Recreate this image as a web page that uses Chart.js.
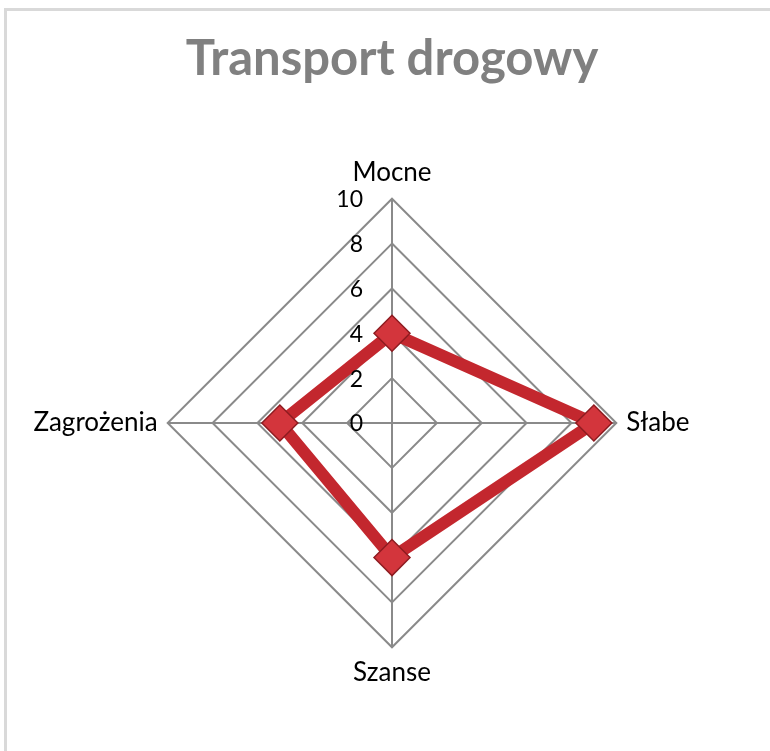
<!DOCTYPE html>
<html>
<head>
<meta charset="utf-8">
<script src="https://cdn.jsdelivr.net/npm/chart.js@4.4.1/dist/chart.umd.min.js"></script>
<style>
    html, body { margin: 0; padding: 0; background: #fff; overflow: hidden; width: 770px; height: 751px; }
    #frame {
        position: absolute; left: 4px; top: 8px; width: 800px; height: 800px;
        border-top: 3px solid #d9d9d9; border-left: 3px solid #d9d9d9;
    }
    /* canvas is wider than the window so the left label never squeezes the radar */
    #wrap { position: absolute; left: -108px; top: 0; width: 1000px; height: 751px; }
</style>
</head>
<body>
<div id="frame"></div>
<div id="wrap"><canvas id="radar-chart"></canvas></div>
<script>
    const categories = ['Mocne', 'Słabe', 'Szanse', 'Zagrożenia'];
    const values = [4, 9, 6, 5];
    const tickValues = [0, 2, 4, 6, 8, 10];

    // tick numbers sit left of the vertical axis, right aligned
    const tickLabelsPlugin = {
        id: 'tickLabels',
        afterDraw(chart) {
            const scale = chart.scales.r;
            const ctx = chart.ctx;
            ctx.save();
            ctx.font = '23px Lato';
            ctx.fillStyle = '#000';
            ctx.textAlign = 'right';
            ctx.textBaseline = 'middle';
            tickValues.forEach(function (v) {
                const y = scale.yCenter - scale.getDistanceFromCenterForValue(v);
                ctx.fillText(String(v), scale.xCenter - 29, y + 1);
            });
            ctx.restore();
        }
    };

    const radarCtx = document.getElementById('radar-chart').getContext('2d');
    const chartRadar = new Chart(radarCtx, {
        type: 'radar',
        data: {
            labels: categories,
            datasets: [{
                label: 'Transport drogowy',
                data: values,
                borderColor: '#c3272e',
                borderWidth: 12,
                backgroundColor: 'transparent',
                fill: false,
                pointStyle: 'rectRot',
                pointRadius: 18,
                pointHoverRadius: 18,
                pointBackgroundColor: '#d3353c',
                pointBorderColor: '#8e1b20',
                pointBorderWidth: 1.5
            }]
        },
        options: {
            responsive: true,
            maintainAspectRatio: false,
            animation: false,
            layout: {
                padding: { left: 0, right: 0, top: 0, bottom: 61.5 }
            },
            scales: {
                r: {
                    min: 0,
                    max: 10,
                    ticks: {
                        stepSize: 2,
                        display: false
                    },
                    grid: { color: '#8a8a8a', lineWidth: 2 },
                    angleLines: { color: '#8a8a8a', lineWidth: 2 },
                    pointLabels: {
                        color: '#000',
                        padding: 10,
                        font: { family: 'Lato', size: 26 }
                    }
                }
            },
            plugins: {
                title: {
                    display: true,
                    text: 'Transport drogowy',
                    color: '#808080',
                    font: { family: 'Lato', size: 49, weight: 'bold' },
                    padding: { top: 30, bottom: 69.7 }
                },
                legend: { display: false },
                tooltip: { enabled: false }
            }
        },
        plugins: [tickLabelsPlugin]
    });
</script>
</body>
</html>
